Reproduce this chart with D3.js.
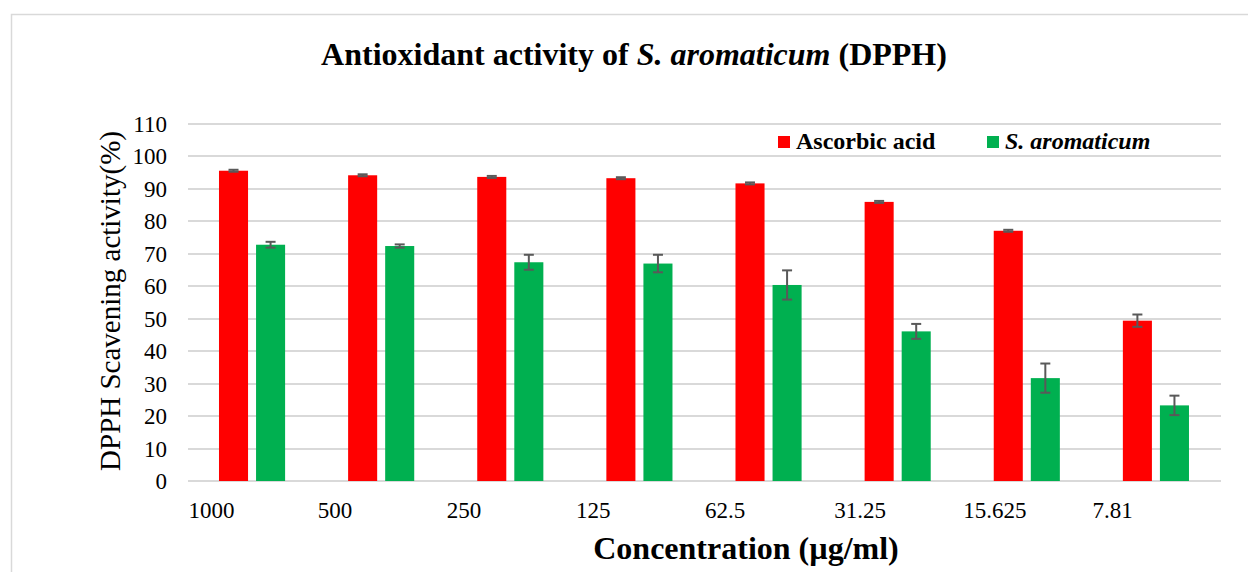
<!doctype html>
<html>
<head>
    <meta charset="utf-8"/>
    <style>
        html, body { margin: 0; padding: 0; background: #fff; }
        svg { display: block; font-family: "Liberation Serif", "Times New Roman", serif; }
        .grid line { stroke: #d9d9d9; stroke-width: 1.5px; shape-rendering: crispEdges; }
        .err line { stroke: #595959; stroke-width: 2px; }
    </style>
    <script src="https://d3js.org/d3.v7.min.js"></script>
</head>
<body>
<svg width="1248" height="572"></svg>
<script>
    // Concentrations (µg/ml) and mean scavenging activity (%) with error bars
    var concentrations = ["1000", "500", "250", "125", "62.5", "31.25", "15.625", "7.81"];
    var ascorbicValues = [95.6, 94.2, 93.7, 93.3, 91.7, 86.0, 77.1, 49.4];
    var ascorbicErrors = [0.3, 0.3, 0.3, 0.3, 0.3, 0.3, 0.3, 1.9];
    var aromaticumValues = [72.8, 72.4, 67.4, 67.0, 60.4, 46.1, 31.7, 23.3];
    var aromaticumErrors = [0.9, 0.5, 2.3, 2.7, 4.5, 2.3, 4.5, 3.0];
    var yTicks = [0, 10, 20, 30, 40, 50, 60, 70, 80, 90, 100, 110];

    var series = [
        {name: "Ascorbic acid", italic: false, color: "#ff0000", values: ascorbicValues, errors: ascorbicErrors, offset: 0.24},
        {name: "S. aromaticum", italic: true, color: "#00b050", values: aromaticumValues, errors: aromaticumErrors, offset: 0.527}
    ];

    var svg = d3.select("svg");

    // chart frame
    svg.append("rect")
        .attr("x", 11.5).attr("y", 14.5)
        .attr("width", 1260).attr("height", 600)
        .attr("fill", "#fff").attr("stroke", "#d9d9d9").attr("stroke-width", 1.5);

    var x = d3.scaleBand().domain(concentrations).range([188, 1221]).padding(0);
    var y = d3.scaleLinear().domain([0, 110]).range([481, 124]);
    var bw = x.bandwidth();
    var barW = bw * 0.225;

    // gridlines
    svg.append("g").attr("class", "grid")
        .selectAll("line").data(yTicks).enter().append("line")
        .attr("x1", 188).attr("x2", 1221)
        .attr("y1", function(d) { return Math.round(y(d)); })
        .attr("y2", function(d) { return Math.round(y(d)); });

    // y tick labels
    svg.append("g").selectAll("text").data(yTicks).enter().append("text")
        .attr("x", 167).attr("y", function(d) { return y(d) + 8; })
        .attr("text-anchor", "end")
        .attr("font-size", 23)
        .text(function(d) { return d; });

    // x tick labels (left aligned at start of each group)
    svg.append("g").selectAll("text").data(concentrations).enter().append("text")
        .attr("x", function(d) { return x(d) + 0.5; })
        .attr("y", 518)
        .attr("font-size", 23)
        .text(function(d) { return d; });

    // bars and error bars
    series.forEach(function(s) {
        var g = svg.append("g");
        g.selectAll("rect").data(concentrations).enter().append("rect")
            .attr("x", function(d) { return x(d) + bw * s.offset; })
            .attr("y", function(d, i) { return y(s.values[i]); })
            .attr("width", barW)
            .attr("height", function(d, i) { return y(0) - y(s.values[i]); })
            .attr("fill", s.color);

        var e = svg.append("g").attr("class", "err")
            .selectAll("g").data(concentrations).enter().append("g");
        var cx = function(d) { return x(d) + bw * s.offset + barW / 2; };
        e.append("line")
            .attr("x1", cx).attr("x2", cx)
            .attr("y1", function(d, i) { return y(s.values[i] + s.errors[i]); })
            .attr("y2", function(d, i) { return y(s.values[i] - s.errors[i]); });
        [1, -1].forEach(function(sign) {
            e.append("line")
                .attr("x1", function(d) { return cx(d) - 5; })
                .attr("x2", function(d) { return cx(d) + 5; })
                .attr("y1", function(d, i) { return y(s.values[i] + sign * s.errors[i]); })
                .attr("y2", function(d, i) { return y(s.values[i] + sign * s.errors[i]); });
        });
    });

    // title
    var title = svg.append("text")
        .attr("x", 634).attr("y", 65)
        .attr("text-anchor", "middle")
        .attr("font-size", 32).attr("font-weight", "bold");
    title.append("tspan").text("Antioxidant activity of ");
    title.append("tspan").attr("font-style", "italic").text("S. aromaticum");
    title.append("tspan").text(" (DPPH)");

    // axis titles
    svg.append("text")
        .attr("x", 746).attr("y", 559)
        .attr("text-anchor", "middle")
        .attr("font-size", 32).attr("font-weight", "bold")
        .text("Concentration (\u00b5g/ml)");

    svg.append("text")
        .attr("transform", "translate(120,301) rotate(-90)")
        .attr("text-anchor", "middle")
        .attr("font-size", 29)
        .text("DPPH Scavening activity(%)");

    // legend
    var legendX = [778, 987];
    series.forEach(function(s, i) {
        svg.append("rect")
            .attr("x", legendX[i]).attr("y", 136)
            .attr("width", 12).attr("height", 12)
            .attr("fill", s.color);
        svg.append("text")
            .attr("x", legendX[i] + 18).attr("y", 149)
            .attr("font-size", 24).attr("font-weight", "bold")
            .attr("font-style", s.italic ? "italic" : "normal")
            .text(s.name);
    });
</script>
</body>
</html>
